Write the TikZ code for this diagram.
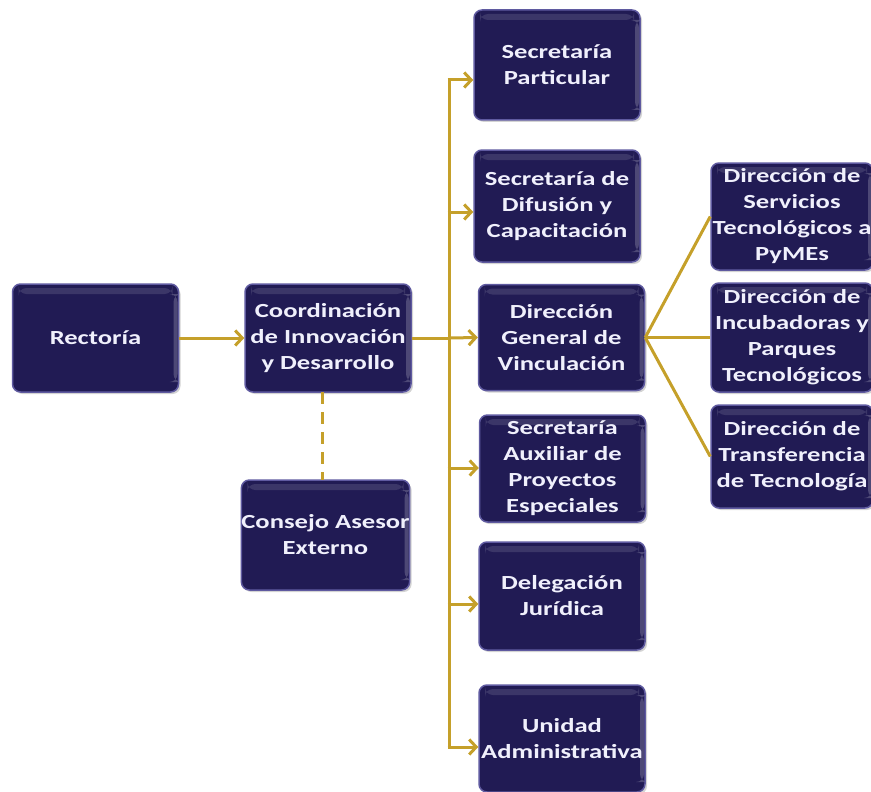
\documentclass[tikz,border=0pt]{standalone}
\usepackage{fontspec}
\setmainfont{Carlito}[FakeStretch=1.33]
\usetikzlibrary{arrows.meta,shadows}
\definecolor{boxbg}{RGB}{33,27,84}
\definecolor{boxedge}{RGB}{95,90,160}
\definecolor{gold}{RGB}{197,160,42}
\definecolor{txt}{RGB}{240,240,252}
\begin{document}
\begin{tikzpicture}[x=1pt,y=-1pt,
 box/.style={draw=boxedge, line width=1.5pt, fill=boxbg, rounded corners=8pt,
   minimum width=166pt, minimum height=108pt, align=center, text=txt, inner sep=0pt,
   font=\bfseries\fontsize{20}{26}\selectfont,
   drop shadow={shadow xshift=2pt, shadow yshift=-2pt, opacity=0.35},
   path picture={
     \fill[white,opacity=0.12] ([xshift=6pt,yshift=-4pt]path picture bounding box.north west) rectangle ([xshift=-6pt,yshift=-10pt]path picture bounding box.north east);
     \fill[white,opacity=0.2] ([xshift=-5pt,yshift=-10pt]path picture bounding box.north east) rectangle ([xshift=-1pt,yshift=10pt]path picture bounding box.south east);
   }},
 conn/.style={draw=gold, line width=3pt},
 arr/.style={conn, -{Straight Barb[length=7pt,width=15pt,line width=3pt]}},
 dashconn/.style={draw=gold, line width=3pt, dash pattern=on 12pt off 8pt}]
\useasboundingbox (0,0) rectangle (871,792);
\clip (0,0) rectangle (871,792);

\node[box] (rec) at (95.5,338) {Rectoría};
\node[box] (coord) at (328,338) {Coordinación\\de Innovación\\y Desarrollo};
\node[box, minimum height=110pt] (cons) at (325.5,535) {Consejo Asesor\\Externo};

\node[box, minimum height=110pt] (sp) at (557,65) {Secretaría\\Particular};
\node[box, minimum height=112pt] (sd) at (557,206) {Secretaría de\\Difusión y\\Capacitación};
\node[box, minimum height=106pt] (dg) at (561.5,337.5) {Dirección\\General de\\Vinculación};
\node[box, minimum height=107pt] (sa) at (562.5,468.5) {Secretaría\\Auxiliar de\\Proyectos\\Especiales};
\node[box] (dj) at (562,596) {Delegación\\Jurídica};
\node[box, minimum height=107pt] (ua) at (562,738.5) {Unidad\\Administrativa};

\node[box, minimum width=162pt, minimum height=107pt] (ds) at (792,216.5) {Dirección de\\Servicios\\Tecnológicos a\\PyMEs};
\node[box, minimum width=162pt, minimum height=109pt] (di) at (792,337.5) {Dirección de\\Incubadoras y\\Parques\\Tecnológicos};
\node[box, minimum width=162pt, minimum height=103pt] (dt) at (792,456.5) {Dirección de\\Transferencia\\de Tecnología};

\coordinate (t1) at (449,80);
\coordinate (t2) at (449,212);
\coordinate (t4) at (449,468);
\coordinate (t5) at (449,604);
\coordinate (t6) at (449,747);
\coordinate (cb) at (322,392);
\coordinate (ct) at (322,480);

\draw[arr] (rec.east) -- (coord.west);
\draw[conn] (coord.east) -- (t1 |- coord.east);
\draw[conn] (t1) -- (t6);
\draw[arr] ([xshift=-1.5pt]t1) -- (t1 -| sp.west);
\draw[arr] ([xshift=-1.5pt]t2) -- (t2 -| sd.west);
\draw[arr] (t1 |- coord.east) -- (dg.west);
\draw[arr] ([xshift=-1.5pt]t4) -- (t4 -| sa.west);
\draw[arr] ([xshift=-1.5pt]t5) -- (t5 -| dj.west);
\draw[arr] ([xshift=-1.5pt]t6) -- (t6 -| ua.west);

\draw[dashconn] (cb) -- (ct);

\draw[conn] (dg.east) -- (ds.west);
\draw[conn] (dg.east) -- (di.west);
\draw[conn] (dg.east) -- (dt.west);
\end{tikzpicture}
\end{document}
